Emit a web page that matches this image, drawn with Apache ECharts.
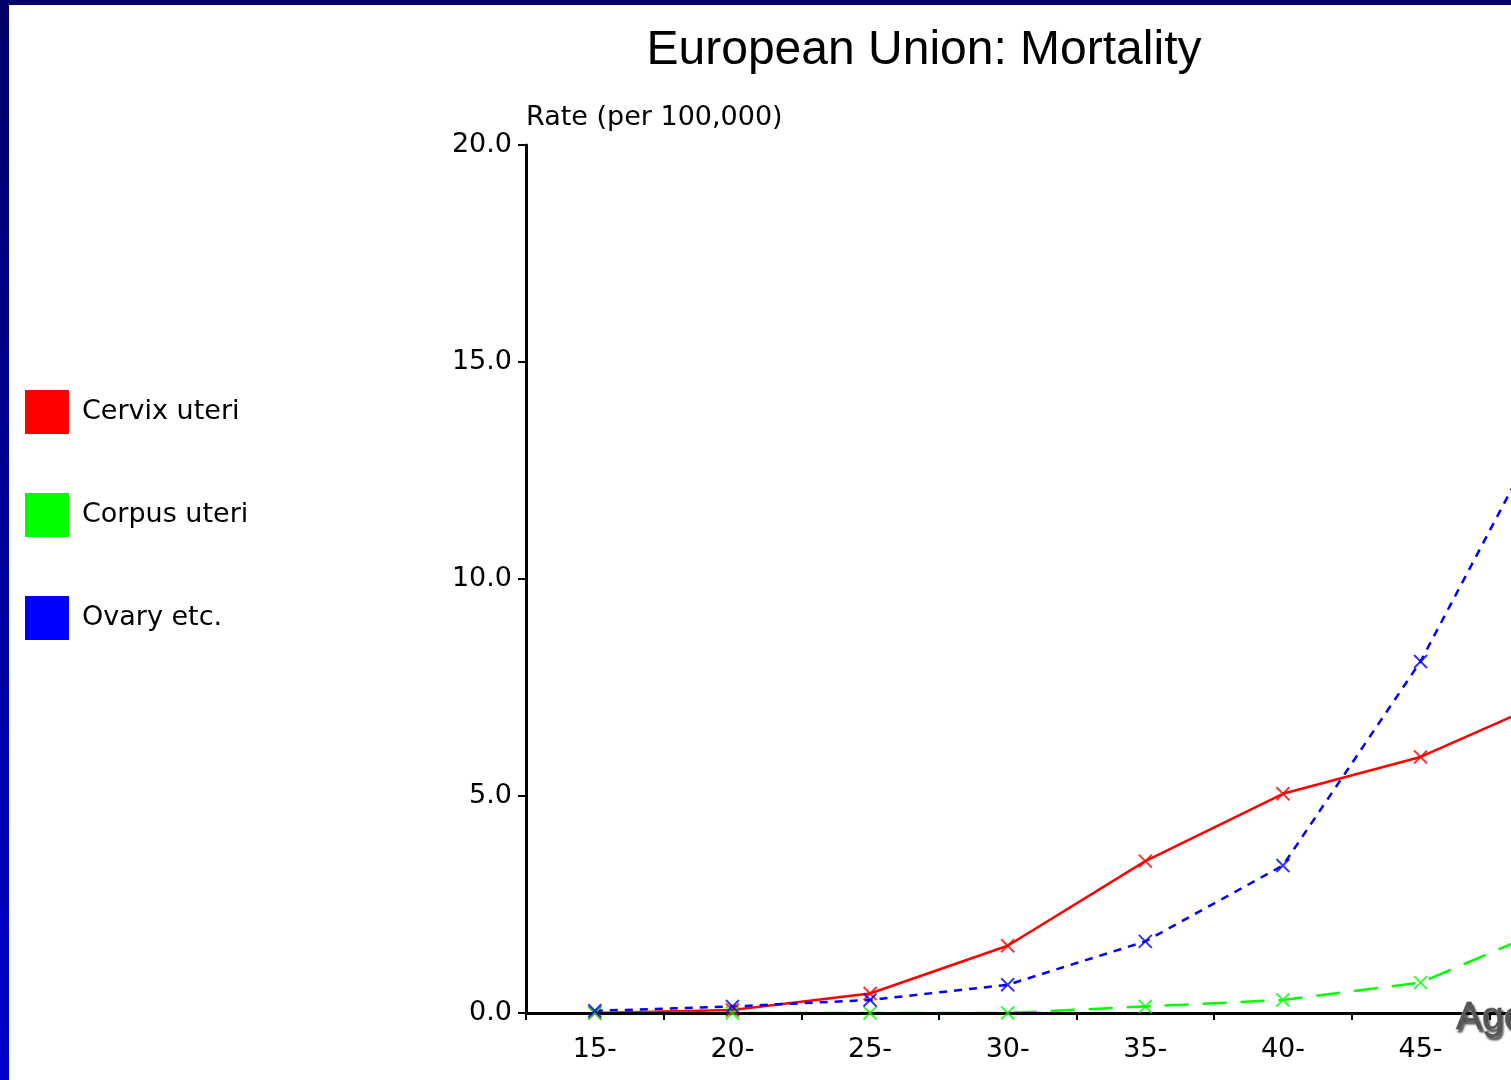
<!DOCTYPE html>
<html>
<head>
<meta charset="utf-8">
<script src="https://cdn.jsdelivr.net/npm/echarts@6/dist/echarts.min.js"></script>
<style>
  html, body { margin: 0; padding: 0; width: 1511px; height: 1080px; overflow: hidden; background: #fff; }
  #chart { position: absolute; left: 0; top: 0; width: 1700px; height: 1080px; }
  #topBand { position: absolute; left: 0; top: 0; width: 1511px; height: 5px; background: #000066; z-index: 5; }
  #leftBand { position: absolute; left: 0; top: 0; width: 9px; height: 1080px; background: linear-gradient(#000066, #0000cc); z-index: 5; }
</style>
</head>
<body>
<div id="chart"></div>
<div id="topBand"></div>
<div id="leftBand"></div>
<script>
// age groups (the chart continues past the right edge of the picture)
const ageGroups = ['15-', '20-', '25-', '30-', '35-', '40-', '45-', '50-'];

// rates per 100,000
const cervix = [0.0, 0.07, 0.45, 1.55, 3.5, 5.05, 5.9, 7.3];
const corpus = [0.0, 0.0, 0.0, 0.0, 0.15, 0.3, 0.7, 2.05];
const ovary = [0.05, 0.15, 0.3, 0.65, 1.65, 3.4, 8.1, 14.1];

const seriesInfo = [
    { name: 'Cervix uteri', data: cervix, color: '#ff0000', dash: 'solid' },
    { name: 'Corpus uteri', data: corpus, color: '#00ff00', dash: [24, 14] },
    { name: 'Ovary etc.', data: ovary, color: '#0000ff', dash: [8, 7] }
];

const crossSymbol = 'path://M0,0L10,10M10,0L0,10';
const labelFont = 'DejaVu Sans';

// lines sit under the x axis, the crosses above it
const lineSeries = seriesInfo.map(s => ({
    name: s.name,
    type: 'line',
    data: s.data,
    z: 1,
    showSymbol: false,
    symbol: 'none',
    itemStyle: { color: s.color },
    lineStyle: { color: s.color, width: 2.5, type: s.dash },
    animation: false
}));
const markSeries = seriesInfo.map(s => ({
    name: s.name,
    type: 'scatter',
    data: s.data,
    z: 5,
    symbol: crossSymbol,
    symbolSize: 13,
    itemStyle: { color: s.color, borderColor: s.color, borderWidth: 2 },
    animation: false
}));

const chart = echarts.init(document.getElementById('chart'));
chart.setOption({
    backgroundColor: '#fff',
    title: [{
        text: 'European Union: Mortality',
        left: 919,
        top: 22,
        textAlign: 'center',
        textStyle: { fontFamily: 'Liberation Sans', fontSize: 48, fontWeight: 'normal', color: '#000' }
    }, {
        text: 'Age',
        left: 1451,
        top: 994,
        textStyle: {
            fontFamily: 'Liberation Sans', fontSize: 39, fontWeight: 'normal', color: '#555',
            textBorderColor: '#999', textBorderWidth: 1,
            textShadowColor: 'rgba(0,0,0,0.6)', textShadowBlur: 2, textShadowOffsetX: 2, textShadowOffsetY: 3
        }
    }],
    legend: {
        orient: 'vertical',
        left: 25,
        top: 390,
        padding: 0,
        icon: 'rect',
        itemWidth: 44,
        itemHeight: 44,
        itemGap: 59,
        data: seriesInfo.map(s => s.name),
        itemStyle: { borderWidth: 0 },
        textStyle: { fontFamily: labelFont, fontSize: 27, color: '#000', padding: [18, 0, 0, 8] },
        selectedMode: false
    },
    grid: { left: 526, top: 145, width: 1101, height: 868 },
    xAxis: {
        type: 'category',
        data: ageGroups,
        z: 3,
        boundaryGap: true,
        axisLine: { lineStyle: { color: '#000', width: 3 } },
        axisTick: { show: true, length: 7, lineStyle: { color: '#000', width: 2 } },
        axisLabel: { margin: 23, fontFamily: labelFont, fontSize: 27, color: '#000' },
        splitLine: { show: false }
    },
    yAxis: {
        type: 'value',
        min: 0,
        max: 20,
        interval: 5,
        z: 3,
        name: 'Rate (per 100,000)',
        nameLocation: 'end',
        nameGap: 14,
        nameTextStyle: { fontFamily: labelFont, fontSize: 27, color: '#000', align: 'left', verticalAlign: 'bottom' },
        axisLine: { show: true, lineStyle: { color: '#000', width: 3 } },
        axisTick: { show: true, length: 8, lineStyle: { color: '#000', width: 2 } },
        axisLabel: { margin: 14, fontFamily: labelFont, fontSize: 27, color: '#000', padding: [8, 0, 0, 0], formatter: v => v.toFixed(1) },
        splitLine: { show: false }
    },
    series: lineSeries.concat(markSeries)
});
</script>
</body>
</html>
